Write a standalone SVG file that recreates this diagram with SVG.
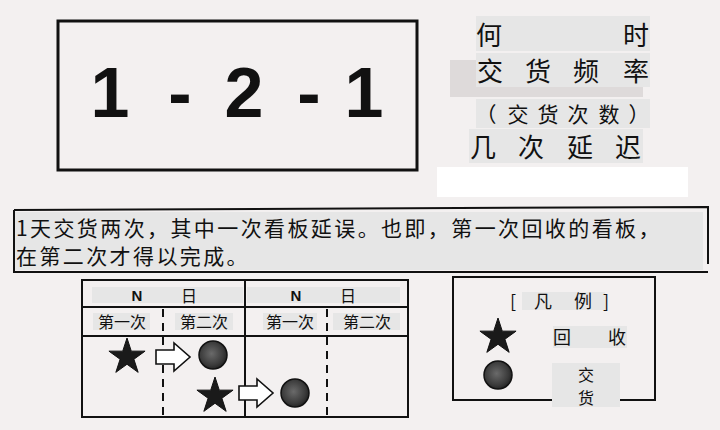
<svg xmlns="http://www.w3.org/2000/svg" width="720" height="430" viewBox="0 0 720 430">
<style>
.cjk{font-family:"Noto Sans CJK SC","Noto Sans",sans-serif;fill:#111}
.box{fill:none;stroke:#111;stroke-width:2}
.lbl{fill:#e6e6e6}
.dash{stroke:#111;stroke-width:2;stroke-dasharray:8 6}
.arrow{fill:#fff;stroke:#111;stroke-width:1.6}
.mid{text-anchor:middle}
</style>
<defs>
<path id="star" d="M0,-19 L4.27,-5.87 L18.07,-5.87 L6.9,2.24 L11.17,15.37 L0,7.26 L-11.17,15.37 L-6.9,2.24 L-18.07,-5.87 L-4.27,-5.87 Z" fill="#1a1a1a" stroke="#111" stroke-width="1"/>
<radialGradient id="dotg" cx="0.45" cy="0.45" r="0.6">
<stop offset="0" stop-color="#6a6a6a"/>
<stop offset="0.7" stop-color="#3a3a3a"/>
<stop offset="1" stop-color="#1e1e1e"/>
</radialGradient>
<circle id="dot" r="14" fill="url(#dotg)" stroke="#111" stroke-width="1.5"/>
<path id="arr" d="M0,-7 H18 V-14 L34,0 L18,14 V7 H0 Z"/>
</defs>
<rect width="720" height="430" fill="#f3f0f0"/>

<g id="code-box">
<rect x="58" y="21" width="359" height="149" fill="none" stroke="#111" stroke-width="3"/>
<g font-family="Liberation Sans, Arial, sans-serif" font-weight="bold" font-size="70" fill="#111" text-anchor="middle">
<text x="110" y="117">1</text>
<text x="180" y="117">-</text>
<text x="244" y="117">2</text>
<text x="309" y="117">-</text>
<text x="364" y="117">1</text>
</g>
</g>

<g id="legend-terms">
<rect x="450" y="60" width="193" height="37" fill="#dedada"/>
<rect class="lbl" x="476" y="16" width="174" height="35"/>
<rect class="lbl" x="476" y="53" width="174" height="34"/>
<rect class="lbl" x="476" y="99" width="174" height="29"/>
<rect class="lbl" x="469" y="129" width="174" height="34"/>
<rect x="437" y="167" width="251" height="30" fill="#fff"/>
<g class="cjk mid" font-size="26">
<text x="489" y="45">何</text><text x="636" y="45">时</text>
<text x="490" y="81">交</text><text x="538" y="81">货</text><text x="586" y="81">频</text><text x="636" y="81">率</text>
<text x="483" y="157">几</text><text x="531" y="157">次</text><text x="580" y="157">延</text><text x="628" y="157">迟</text>
</g>
<g class="cjk mid" font-size="21">
<text x="486" y="122">（</text><text x="518" y="122">交</text><text x="548" y="122">货</text><text x="578" y="122">次</text><text x="609" y="122">数</text><text x="639" y="122">）</text>
</g>
</g>

<g id="note">
<rect class="lbl" x="15" y="212" width="688" height="58"/>
<path d="M14,210 L708,207 L708,264" class="box"/>
<path d="M14,210 L14,272 L708,272" class="box"/>
<text class="cjk" font-size="21" letter-spacing="2.4" x="16" y="236">1天交货两次，其中一次看板延误。也即，第一次回收的看板，</text>
<text class="cjk" font-size="21" letter-spacing="2.4" x="16" y="264">在第二次才得以完成。</text>
</g>

<g id="table">
<rect x="82" y="280" width="326" height="137" class="box"/>
<line x1="245" y1="280" x2="245" y2="417" stroke="#111" stroke-width="2"/>
<line x1="82" y1="307" x2="408" y2="307" stroke="#111" stroke-width="2"/>
<line x1="82" y1="336" x2="408" y2="336" stroke="#111" stroke-width="2"/>
<line x1="163" y1="309" x2="163" y2="417" class="dash"/>
<line x1="327" y1="309" x2="327" y2="417" class="dash"/>
<rect class="lbl" x="92" y="287" width="151" height="16"/>
<rect class="lbl" x="247" y="287" width="153" height="16"/>
<rect class="lbl" x="93" y="313" width="57" height="17"/>
<rect class="lbl" x="175" y="313" width="58" height="17"/>
<rect class="lbl" x="263" y="313" width="54" height="17"/>
<rect class="lbl" x="333" y="313" width="67" height="17"/>
<g class="mid" font-family="Liberation Sans, Arial, sans-serif" font-weight="bold" font-size="15" fill="#111">
<text x="137" y="301">N</text><text x="296" y="301">N</text>
</g>
<g class="cjk mid" font-size="16">
<text x="189" y="302">日</text><text x="348" y="302">日</text>
<text x="122" y="328">第一次</text><text x="204" y="328">第二次</text>
<text x="290" y="328">第一次</text><text x="367" y="328">第二次</text>
</g>
<use href="#star" x="127" y="357"/>
<use href="#arr" x="156" y="357" class="arrow"/>
<use href="#dot" x="213" y="355"/>
<use href="#star" x="215" y="396"/>
<use href="#arr" x="239" y="393" class="arrow"/>
<use href="#dot" x="295" y="393"/>
</g>

<g id="legend">
<rect x="453" y="277" width="202" height="123" class="box"/>
<rect class="lbl" x="522" y="292" width="83" height="18"/>
<rect class="lbl" x="553" y="326" width="74" height="22"/>
<rect class="lbl" x="552" y="363" width="68" height="44"/>
<g class="cjk mid" font-size="18">
<text x="513" y="308">[</text><text x="543" y="308">凡</text><text x="583" y="308">例</text><text x="606" y="308">]</text>
<text x="562" y="344">回</text><text x="617" y="344">收</text>
</g>
<g class="cjk mid" font-size="16">
<text x="586" y="381">交</text><text x="586" y="404">货</text>
</g>
<use href="#star" x="498" y="337"/>
<use href="#dot" x="498" y="375"/>
</g>
</svg>
